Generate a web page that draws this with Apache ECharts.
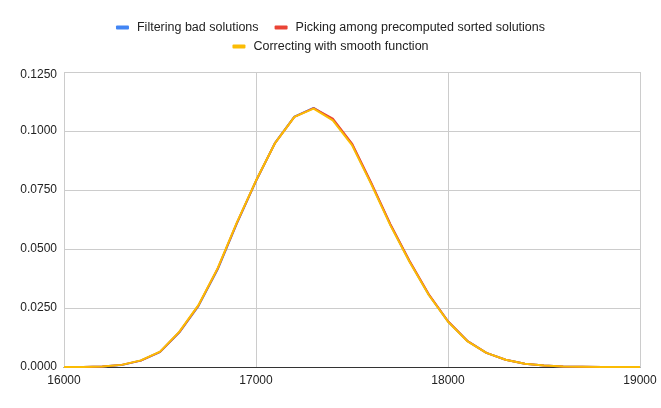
<!DOCTYPE html>
<html>
<head>
<meta charset="utf-8">
<script src="https://cdn.jsdelivr.net/npm/echarts@6/dist/echarts.min.js"></script>
<style>
  html, body { margin: 0; padding: 0; background: #fff; }
  #chart { width: 661px; height: 408px; }
</style>
</head>
<body>
<div id="chart"></div>
<script>
// x values (step 100)
var xValues = [16000, 16100, 16200, 16300, 16400, 16500, 16600, 16700, 16800, 16900,
  17000, 17100, 17200, 17300, 17400, 17500, 17600, 17700, 17800, 17900,
  18000, 18100, 18200, 18300, 18400, 18500, 18600, 18700, 18800, 18900, 19000];

// Filtering bad solutions
var filtering = [0, 0, 0.0002, 0.0008, 0.0027, 0.0063, 0.0146, 0.0258, 0.0413, 0.0608,
  0.0788, 0.0951, 0.1061, 0.1098, 0.1048, 0.0944, 0.0778, 0.0603, 0.0447, 0.0306,
  0.0193, 0.0111, 0.0060, 0.0031, 0.0014, 0.0006, 0.0002, 0.0001, 0, 0, 0];

// Picking among precomputed sorted solutions
var picking = [0, 0, 0.0002, 0.0009, 0.0027, 0.0064, 0.0147, 0.0260, 0.0416, 0.0610,
  0.0789, 0.0950, 0.1060, 0.1097, 0.1052, 0.0947, 0.0781, 0.0605, 0.0449, 0.0308,
  0.0194, 0.0111, 0.0060, 0.0031, 0.0014, 0.0006, 0.0002, 0.0001, 0, 0, 0];

// Correcting with smooth function
var smooth = [0, 0, 0.0002, 0.0009, 0.0028, 0.0065, 0.0149, 0.0262, 0.0418, 0.0612,
  0.0790, 0.0950, 0.1060, 0.1095, 0.1045, 0.0940, 0.0775, 0.0600, 0.0445, 0.0305,
  0.0192, 0.0110, 0.0060, 0.0031, 0.0014, 0.0006, 0.0002, 0.0001, 0, 0, 0];

var yTicks = [0, 0.025, 0.05, 0.075, 0.1, 0.125];

var names = ["Filtering bad solutions", "Picking among precomputed sorted solutions", "Correcting with smooth function"];
var colors = ["#4285F4", "#EA4335", "#FBBC04"];

function pairs(ys) {
  return xValues.map(function (x, i) { return [x, ys[i]]; });
}

var font = "Liberation Sans, Arial, sans-serif";

var legendBase = {
  icon: "roundRect",
  itemWidth: 13,
  itemHeight: 4,
  itemGap: 16,
  selectedMode: false,
  textStyle: { fontFamily: font, fontSize: 12.5, color: "#222", padding: [0, 0, 0, 3] }
};

var chart = echarts.init(document.getElementById("chart"));
chart.setOption({
  animation: false,
  color: colors,
  legend: [
    Object.assign({}, legendBase, { data: [names[0], names[1]], top: 16, left: "center" }),
    Object.assign({}, legendBase, { data: [names[2]], top: 35, left: "center" })
  ],
  grid: { left: 64, right: 21, top: 72, bottom: 41 },
  xAxis: {
    type: "value",
    min: 16000,
    max: 19000,
    interval: 1000,
    axisLine: { lineStyle: { color: "#333", width: 1 } },
    axisTick: { show: false },
    splitLine: { show: true, lineStyle: { color: "#ccc" } },
    axisLabel: {
      fontFamily: font, fontSize: 12, color: "#222", margin: 8,
      formatter: function (v) { return String(v); }
    }
  },
  yAxis: {
    type: "value",
    min: yTicks[0],
    max: yTicks[yTicks.length - 1],
    interval: 0.025,
    axisLine: { show: false },
    axisTick: { show: false },
    splitLine: { lineStyle: { color: "#ccc" } },
    axisLabel: {
      fontFamily: font, fontSize: 12, color: "#222", margin: 7,
      formatter: function (v) {
        // top label sits a little below its gridline in the reference
        return v >= yTicks[yTicks.length - 1] ? "{top|" + v.toFixed(4) + "}" : v.toFixed(4);
      },
      rich: { top: { fontFamily: font, fontSize: 12, color: "#222", padding: [5, 0, 0, 0] } }
    }
  },
  series: [
    { name: names[0], type: "line", data: pairs(filtering), showSymbol: false, lineStyle: { width: 2 } },
    { name: names[1], type: "line", data: pairs(picking), showSymbol: false, lineStyle: { width: 2 } },
    { name: names[2], type: "line", data: pairs(smooth), showSymbol: false, lineStyle: { width: 2 } }
  ]
});
</script>
</body>
</html>
